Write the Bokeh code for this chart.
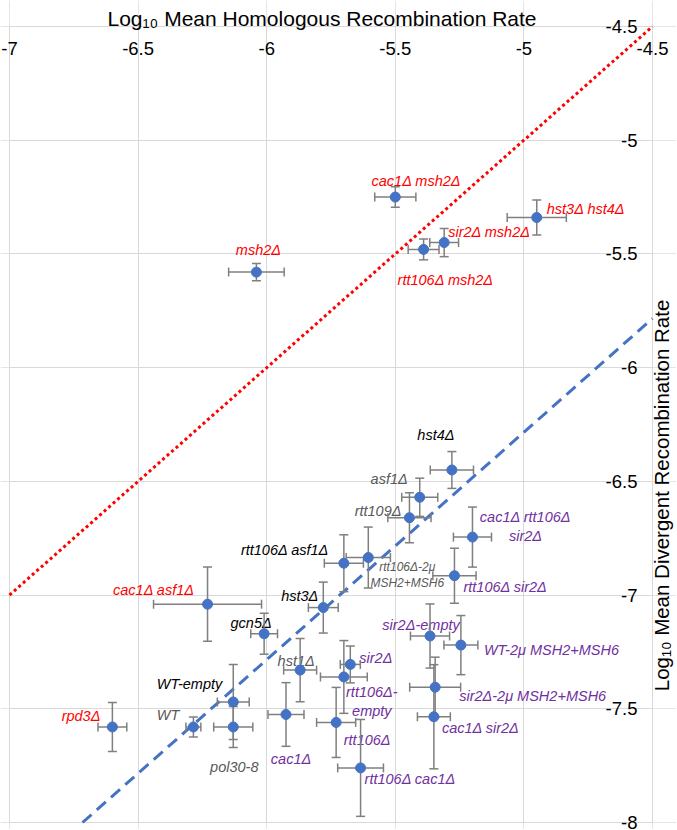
import math
import numpy as np
from bokeh.plotting import figure
from bokeh.models import (ColumnDataSource, Range1d, Grid, FixedTicker, Whisker,
                          TeeHead, LabelSet, Label)
from bokeh.core.properties import value, field
from bokeh.embed import file_html
from bokeh.resources import INLINE

# ---------------- data ----------------
strains = ["cac1Δ msh2Δ", "hst3Δ hst4Δ", "sir2Δ msh2Δ", "rtt106Δ msh2Δ", "msh2Δ",
           "cac1Δ asf1Δ", "rpd3Δ",
           "WT-empty", "gcn5Δ", "hst3Δ", "rtt106Δ asf1Δ", "hst4Δ",
           "WT", "pol30-8", "hst1Δ", "asf1Δ", "rtt109Δ", "rtt106Δ-2μ\nMSH2+MSH6",
           "cac1Δ rtt106Δ\nsir2Δ", "rtt106Δ sir2Δ", "sir2Δ-empty", "WT-2μ MSH2+MSH6",
           "sir2Δ-2μ MSH2+MSH6", "cac1Δ sir2Δ", "sir2Δ", "rtt106Δ-\nempty", "cac1Δ",
           "rtt106Δ", "rtt106Δ cac1Δ"]
groups = ["red"] * 7 + ["black"] * 5 + ["gray"] * 6 + ["purple"] * 11

hr_log = [-5.50, -4.95, -5.31, -5.39, -6.04, -6.23, -6.60,
          -6.13, -6.01, -5.78, -5.70, -5.28,
          -6.285, -6.13, -5.87, -5.405, -5.445, -5.605,
          -5.20, -5.27, -5.365, -5.245, -5.345, -5.35, -5.675, -5.70, -5.925,
          -5.73, -5.635]
hr_err = [0.080, 0.115, 0.056, 0.060, 0.108, 0.210, 0.056,
          0.062, 0.052, 0.058, 0.076, 0.084,
          0.029, 0.076, 0.064, 0.070, 0.084, 0.086,
          0.074, 0.084, 0.076, 0.066, 0.099, 0.064, 0.039, 0.091, 0.070,
          0.076, 0.089]
dr_log = [-5.25, -5.34, -5.45, -5.48, -5.58, -7.04, -7.58,
          -7.47, -7.17, -7.055, -6.86, -6.45,
          -7.58, -7.58, -7.33, -6.57, -6.66, -6.835,
          -6.745, -6.915, -7.18, -7.22, -7.405, -7.535, -7.305, -7.36, -7.525,
          -7.56, -7.76]
dr_err = [0.045, 0.077, 0.062, 0.046, 0.038, 0.163, 0.108,
          0.165, 0.090, 0.112, 0.125, 0.081,
          0.044, 0.090, 0.139, 0.084, 0.110, 0.134,
          0.132, 0.121, 0.141, 0.130, 0.132, 0.229, 0.081, 0.160, 0.140,
          0.154, 0.213]

identity_x = [-7.0, -4.5]
identity_y = [-7.0, -4.5]
fit_x = [-6.716, -4.5]
fit_y = [-8.0, -5.784]

x_ticks = [-7.0, -6.5, -6.0, -5.5, -5.0, -4.5]
x_tick_labels = ["-7", "-6.5", "-6", "-5.5", "-5", "-4.5"]
y_ticks = [-8.0, -7.5, -7.0, -6.5, -6.0, -5.5, -5.0, -4.5]
y_tick_labels = ["-8", "-7.5", "-7", "-6.5", "-6", "-5.5", "-5", "-4.5"]

x_title = "Log₁₀ Mean Homologous Recombination Rate"
y_title = "Log₁₀ Mean Divergent Recombination Rate"

# ---------------- styles / layout ----------------
group_colors = {"red": "#FF0000", "black": "#000000", "gray": "#595959", "purple": "#7030A0"}
lab_dx = [21, 10, 4, -26, 2, -13, -12,
          -11, -13, -5, -15, -16,
          -14, 1, -4, -12, -8, 39,
          53, 9, -9, 23, 24, 8, 9, 28, 5,
          31, 4]
lab_dy = [-16, -9, -11, 31, -22, -14, -11,
          -18, -11, -12, -13, -35,
          -12, 40, -9, -18, -7, 17.5,
          -10.5, 11, -11, 5, 9, 11, -6, 24.5, 45,
          18, 11]
lab_align = ["center", "left", "left", "left", "center", "right", "right",
             "right", "center", "right", "right", "center",
             "right", "center", "center", "right", "right", "center",
             "center", "left", "center", "left", "left", "left", "left", "center", "center",
             "center", "left"]
lab_size = ["14.5px"] * 17 + ["12px"] + ["14.5px"] * 11

FONT = "Liberation Sans"
GRID = "#d9d9d9"
ERR = "#7f7f7f"
BLUE = "#4472C4"

W, H = 676, 829
PAD_L, PAD_R, PAD_T, PAD_B = 9, 24, 26, 7          # pixels around the plot area
x_lo, x_hi = x_ticks[0], x_ticks[-1]
y_lo, y_hi = y_ticks[0], y_ticks[-1]
ux = (x_hi - x_lo) / (W - PAD_L - PAD_R)
uy = (y_hi - y_lo) / (H - PAD_T - PAD_B)

x = np.array(hr_log)
y = np.array(dr_log)
src = ColumnDataSource(dict(
    x=x, y=y,
    xl=x - np.array(hr_err), xu=x + np.array(hr_err),
    yl=y - np.array(dr_err), yu=y + np.array(dr_err),
    label=strains, color=[group_colors[g] for g in groups],
    dx=lab_dx, dy=lab_dy, align=lab_align, fsize=lab_size,
))

p = figure(width=W, height=H,
           x_range=Range1d(x_lo - PAD_L * ux, x_hi + PAD_R * ux),
           y_range=Range1d(y_lo - PAD_B * uy, y_hi + PAD_T * uy),
           x_axis_location=None, y_axis_location=None,
           toolbar_location=None, output_backend="svg", min_border=0)
p.outline_line_color = None
p.background_fill_color = "white"
p.border_fill_color = "white"

# grid lines, limited to the plot area
if "cross_bounds" in Grid.properties():
    p.add_layout(Grid(dimension=0, ticker=FixedTicker(ticks=x_ticks),
                      cross_bounds=(y_lo, y_hi), grid_line_color=GRID, grid_line_width=1))
    p.add_layout(Grid(dimension=1, ticker=FixedTicker(ticks=y_ticks),
                      cross_bounds=(x_lo, x_hi), grid_line_color=GRID, grid_line_width=1))
else:
    p.segment(x0=x_ticks, x1=x_ticks, y0=[y_lo] * len(x_ticks), y1=[y_hi] * len(x_ticks),
              line_color=GRID, line_width=1, level="underlay")
    p.segment(x0=[x_lo] * len(y_ticks), x1=[x_hi] * len(y_ticks), y0=y_ticks, y1=y_ticks,
              line_color=GRID, line_width=1, level="underlay")

p.line(identity_x, identity_y, line_color="#FF0000", line_width=3, line_dash="3 3")
p.line(fit_x, fit_y, line_color=BLUE, line_width=3, line_dash="12 7")

def head():
    return TeeHead(size=9, line_color=ERR, line_width=1.5)

p.add_layout(Whisker(source=src, base="x", lower="yl", upper="yu", dimension="height",
                     line_color=ERR, line_width=1.5, upper_head=head(), lower_head=head(),
                     level="glyph"))
p.add_layout(Whisker(source=src, base="y", lower="xl", upper="xu", dimension="width",
                     line_color=ERR, line_width=1.5, upper_head=head(), lower_head=head(),
                     level="glyph"))

p.scatter("x", "y", source=src, size=10, fill_color=BLUE, line_color=BLUE, level="overlay")

p.text(x="x", y="y", text="label", source=src, text_color="color",
       x_offset="dx", y_offset="dy", text_align=field("align"), text_baseline="middle",
       text_font=value(FONT), text_font_style="italic", text_font_size=field("fsize"),
       text_line_height=1.2)

# tick labels
xt_src = ColumnDataSource(dict(x=x_ticks, y=[y_hi] * len(x_ticks), text=x_tick_labels))
p.add_layout(LabelSet(source=xt_src, x="x", y="y", text="text", y_offset=-22,
                      text_align="center", text_baseline="middle",
                      text_font=value(FONT), text_font_size="18.5px", text_color="black"))
yt_src = ColumnDataSource(dict(x=[x_hi] * len(y_ticks), y=y_ticks, text=y_tick_labels))
p.add_layout(LabelSet(source=yt_src, x="x", y="y", text="text", x_offset=-15,
                      text_align="right", text_baseline="middle",
                      text_font=value(FONT), text_font_size="18.5px", text_color="black"))

# axis titles
p.add_layout(Label(x=-5.785, y=y_hi, y_offset=8, text=x_title, text_align="center",
                   text_baseline="alphabetic", text_font=FONT, text_font_size="21px",
                   text_color="black"))
p.add_layout(Label(x=x_hi, y=-6.562, x_offset=9, text=y_title, angle=math.pi / 2,
                   text_align="center", text_baseline="middle", text_font=FONT,
                   text_font_size="20.5px", text_color="black"))

open("out.html", "w").write(file_html(p, INLINE))
